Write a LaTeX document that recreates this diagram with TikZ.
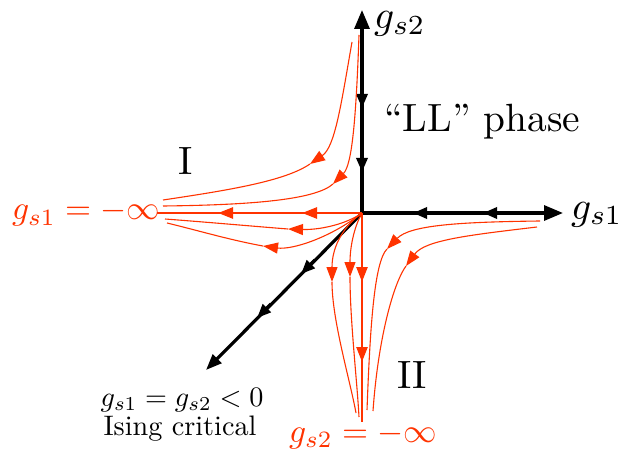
\documentclass[tikz,border=0pt]{standalone}
\usepackage{graphicx}
\usetikzlibrary{arrows.meta}
\definecolor{flowred}{RGB}{255,51,0}
\newcommand{\mytxt}[2]{\scalebox{#1}{\fontsize{10}{12}\selectfont #2}}
\tikzset{
  axisline/.style={line width=3.2pt, draw=black},
  thickred/.style={line width=2.5pt, draw=flowred},
  thinred/.style={line width=1.1pt, draw=flowred},
  bighead/.style={-{Triangle[length=19pt,width=15pt]}},
  diaghead/.style={-{Triangle[length=16pt,width=12pt]}},
  midhead/.style={-{Triangle[length=14pt,width=11pt]}},
  redhead/.style={-{Triangle[length=15pt,width=11pt]}},
  lab/.style={inner sep=0pt, anchor=base west},
}
\begin{document}
\begin{tikzpicture}[x=1pt,y=-1pt]
\useasboundingbox (0,0) rectangle (629,449);
% key points
\coordinate (O) at (362,213);
\coordinate (Ytop) at (362,10);
\coordinate (Xend) at (563,213);
\coordinate (Dend) at (206,370);
\coordinate (Lend) at (157,213);
\coordinate (Bend) at (362,422);
% black axes
\draw[axisline, bighead] (O) -- (Ytop);
\draw[axisline, bighead] (O) -- (Xend);
\draw[axisline, diaghead] (O) -- (Dend);
% mid arrows on axes
\coordinate (y1s) at (362,88);  \coordinate (y1) at (362,108);
\coordinate (y2s) at (362,152); \coordinate (y2) at (362,172);
\coordinate (x1s) at (503,213); \coordinate (x1) at (483,213);
\coordinate (x2s) at (433,213); \coordinate (x2) at (413,213);
\coordinate (d1s) at (315,260); \coordinate (d1) at (301,274);
\coordinate (d2s) at (271,304); \coordinate (d2) at (257,318);
\draw[axisline, midhead] (y1s) -- (y1);
\draw[axisline, midhead] (y2s) -- (y2);
\draw[axisline, midhead] (x1s) -- (x1);
\draw[axisline, midhead] (x2s) -- (x2);
\draw[axisline, midhead] (d1s) -- (d1);
\draw[axisline, midhead] (d2s) -- (d2);
% red thick separatrices
\draw[thickred] (O) -- (Lend);
\draw[thickred] (O) -- (Bend);
\coordinate (h1s) at (322,213); \coordinate (h1) at (302,213);
\coordinate (h2s) at (238,213); \coordinate (h2) at (218,213);
\coordinate (v1s) at (362,262); \coordinate (v1) at (362,282);
\coordinate (v2s) at (362,342); \coordinate (v2) at (362,362);
\draw[thickred, redhead] (h1s) -- (h1);
\draw[thickred, redhead] (h2s) -- (h2);
\draw[thickred, redhead] (v1s) -- (v1);
\draw[thickred, redhead] (v2s) -- (v2);
% region I curves
\coordinate (a0) at (352,42);  \coordinate (a1) at (310,164); \coordinate (a2) at (163,200);
\draw[thinred, redhead] (a0) .. controls (341,105) and (335,147) .. (a1);
\draw[thinred] (a1) .. controls (285,181) and (230,190) .. (a2);
\coordinate (b0) at (359,35);  \coordinate (b1) at (333,184); \coordinate (b2) at (163,206);
\draw[thinred, redhead] (b0) .. controls (356,120) and (352,165) .. (b1);
\draw[thinred] (b1) .. controls (315,200) and (250,205) .. (b2);
% curves leaving the origin to the left
\coordinate (c1) at (288,229); \coordinate (c2) at (165,219);
\draw[thinred, redhead] (O) .. controls (345,225) and (318,230) .. (c1);
\draw[thinred] (c1) .. controls (250,226) and (205,222) .. (c2);
\coordinate (e1) at (263,246); \coordinate (e2) at (167,223);
\draw[thinred, redhead] (O) .. controls (330,238) and (292,250) .. (e1);
\draw[thinred] (e1) .. controls (230,240) and (200,231) .. (e2);
% curves leaving the origin downwards
\coordinate (f1) at (332,282); \coordinate (f2) at (356,413);
\draw[thinred, redhead] (O) .. controls (345,225) and (332,245) .. (f1);
\draw[thinred] (f1) .. controls (332,320) and (350,380) .. (f2);
\coordinate (g1) at (350,277); \coordinate (g2) at (359,417);
\draw[thinred, redhead] (O) .. controls (355,225) and (350,245) .. (g1);
\draw[thinred] (g1) .. controls (350,320) and (357,380) .. (g2);
% region II curves
\coordinate (k0) at (540,221); \coordinate (k1) at (387,249); \coordinate (k2) at (367,410);
\draw[thinred, redhead] (k0) .. controls (460,222) and (410,225) .. (k1);
\draw[thinred] (k1) .. controls (374,262) and (370,330) .. (k2);
\coordinate (m0) at (537,227); \coordinate (m1) at (406,266); \coordinate (m2) at (373,411);
\draw[thinred, redhead] (m0) .. controls (470,235) and (425,240) .. (m1);
\draw[thinred] (m1) .. controls (393,284) and (378,340) .. (m2);
% labels
\node[lab] (lgs2) at (374,29) {\mytxt{3.95}{$g_{s2}$}};
\node[lab] (lgs1) at (571,219) {\mytxt{3.95}{$g_{s1}$}};
\node[lab] (lLL) at (384,132) {\mytxt{3.94}{``LL''\ phase}};
\node[lab, anchor=base] (lI) at (186,175) {\mytxt{3.95}{I}};
\node[lab] (lII) at (397,388) {\mytxt{3.95}{II}};
\node[lab, text=flowred] (linf1) at (12,220) {\mytxt{3.35}{$g_{s1}=-\infty$}};
\node[lab, text=flowred] (linf2) at (289,442) {\mytxt{3.35}{$g_{s2}=-\infty$}};
\node[lab, anchor=base] (lcrit1) at (182,406) {\mytxt{2.82}{$g_{s1}=g_{s2}<0$}};
\node[lab, anchor=base] (lcrit2) at (180,435) {\mytxt{2.82}{Ising critical}};
\end{tikzpicture}
\end{document}
